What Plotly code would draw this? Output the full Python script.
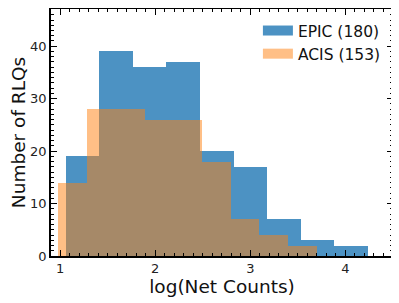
import plotly.graph_objects as go

# Histogram data
epic_edges = [1.060, 1.413, 1.766, 2.118, 2.471, 2.824, 3.177, 3.530, 3.882, 4.235]
epic_counts = [19, 39, 36, 37, 20, 17, 7, 3, 2]
acis_edges = [0.982, 1.284, 1.586, 1.888, 2.190, 2.492, 2.794, 3.096, 3.398, 3.700]
acis_counts = [14, 28, 28, 26, 26, 18, 7, 4, 2]
epic_label = "EPIC (180)"
acis_label = "ACIS (153)"

blue = "rgba(31,119,180,0.8)"
orange = "rgba(255,127,14,0.5)"

def centers(e):
    return [(e[i] + e[i + 1]) / 2 for i in range(len(e) - 1)]

def widths(e):
    return [e[i + 1] - e[i] for i in range(len(e) - 1)]

fig = go.Figure()
fig.add_trace(go.Bar(x=centers(epic_edges), y=epic_counts, width=widths(epic_edges),
                     marker=dict(color=blue, line=dict(width=0)), showlegend=False))
fig.add_trace(go.Bar(x=centers(acis_edges), y=acis_counts, width=widths(acis_edges),
                     marker=dict(color=orange, line=dict(width=0)), showlegend=False))
# legend proxies
fig.add_trace(go.Scatter(x=[None], y=[None], mode="lines", name=epic_label,
                         line=dict(color=blue, width=10)))
fig.add_trace(go.Scatter(x=[None], y=[None], mode="lines", name=acis_label,
                         line=dict(color=orange, width=10)))

axis_common = dict(
    showline=True, linecolor="black", linewidth=1.5, mirror="ticks",
    ticks="inside", ticklen=6, tickwidth=1.2, tickcolor="black",
    showgrid=False, zeroline=False, automargin=False,
    tickfont=dict(family="DejaVu Sans", size=13, color="#222"),
)

# the page body has an 8px margin, so the figure is sized to fit the window
fig.update_layout(
    width=391, height=295,
    margin=dict(l=43, r=6, t=1, b=47),
    paper_bgcolor="white", plot_bgcolor="white",
    barmode="overlay", bargap=0,
    font=dict(family="DejaVu Sans", color="#111"),
    xaxis=dict(range=[0.905, 4.5], tickvals=[1, 2, 3, 4],
               minor=dict(dtick=0.1, ticks="inside", ticklen=3, tickcolor="black", tickwidth=1),
               title=dict(text="log(Net Counts)", font=dict(size=18.5), standoff=4),
               **axis_common),
    yaxis=dict(range=[0, 47.1], tickvals=[0, 10, 20, 30, 40],
               minor=dict(dtick=1, ticks="inside", ticklen=3, tickcolor="black", tickwidth=1),
               title=dict(text="Number of RLQs", font=dict(size=18.5), standoff=11),
               **axis_common),
    legend=dict(x=0.605, y=0.98, xanchor="left", yanchor="top",
                bgcolor="rgba(0,0,0,0)", font=dict(size=15.5),
                itemwidth=30, tracegroupgap=0),
)

fig.write_html("out.html")
